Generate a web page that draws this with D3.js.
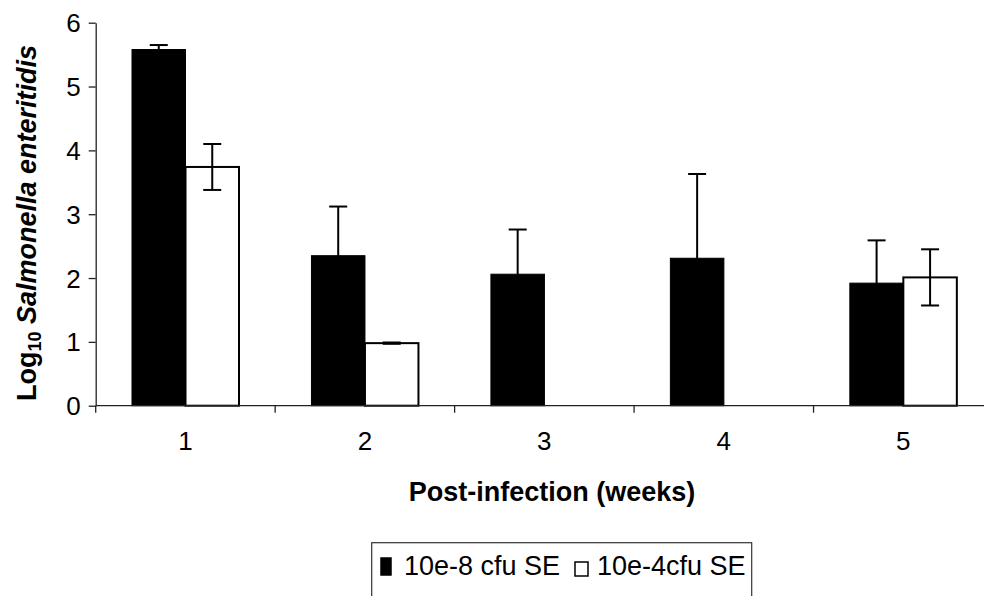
<!DOCTYPE html>
<html lang="en">
<head>
  <meta charset="UTF-8">
  <title>Salmonella enteritidis post-infection</title>
  <style>
    body{ margin: 0; background: #fff; }
    svg{ display: block; font-family: "Liberation Sans", Arial, sans-serif; }
    .tick-label{ font-size: 26px; fill: #000; }
    .axis-title{ font-size: 27px; font-weight: bold; fill: #000; }
    .legend-text{ font-size: 27px; fill: #000; }
    .err{ stroke: #000; stroke-width: 2px; fill: none; }
  </style>
</head>
<body>
  <script src="https://cdn.jsdelivr.net/npm/d3@7/dist/d3.min.js"></script>
  <script>
    const width = 984, height = 596;

    // data
    const weeks = ['1', '2', '3', '4', '5'];
    const seriesNames = ['10e-8 cfu SE', '10e-4cfu SE'];
    const highDose = [5.58, 2.35, 2.06, 2.31, 1.92];
    const highDoseErr = [0.07, 0.77, 0.70, 1.32, 0.67];
    const lowDose = [3.74, 0.98, 0, 0, 2.01];
    const lowDoseErr = [0.36, 0.01, 0, 0, 0.44];
    const yTicks = [0, 1, 2, 3, 4, 5, 6];

    const rows = weeks.map(function(w, i){
      return [
        {week: w, s: 0, v: highDose[i], e: highDoseErr[i]},
        {week: w, s: 1, v: lowDose[i], e: lowDoseErr[i]}
      ];
    });

    const plotLeft = 95.7, plotRight = 993, plotTop = 22.7, plotBottom = 405.7;
    const x = d3.scaleBand().domain(weeks).range([plotLeft, plotRight]);
    const xs = d3.scaleBand().domain([0, 1]).range([36.3, 143.3]);
    const y = d3.scaleLinear().domain([0, 6]).range([plotBottom, plotTop]);

    const svg = d3.select('body').append('svg')
      .attr('width', width)
      .attr('height', height);

    // bars
    const groups = svg.selectAll('g.week')
      .data(rows)
      .enter()
      .append('g')
      .attr('class', 'week')
      .attr('transform', function(d){ return 'translate(' + x(d[0].week) + ',0)'; });

    groups.selectAll('rect')
      .data(function(d){ return d.filter(function(r){ return r.v > 0; }); })
      .enter()
      .append('rect')
      .attr('x', function(d){ return xs(d.s); })
      .attr('width', xs.bandwidth())
      .attr('y', function(d){ return y(d.v); })
      .attr('height', function(d){ return y(0) - y(d.v); })
      .attr('fill', function(d){ return d.s === 0 ? '#000' : '#fff'; })
      .attr('stroke', '#000')
      .attr('stroke-width', function(d){ return d.s === 0 ? 1 : 2; });

    // error bars
    const errs = groups.selectAll('g.err')
      .data(function(d){ return d.filter(function(r){ return r.v > 0; }); })
      .enter()
      .append('g')
      .attr('class', 'err');
    const cx = function(d){ return xs(d.s) + xs.bandwidth() / 2; };
    errs.append('line')
      .attr('x1', cx).attr('x2', cx)
      .attr('y1', function(d){ return y(d.v - d.e); })
      .attr('y2', function(d){ return y(d.v + d.e); });
    [1, -1].forEach(function(sign){
      errs.append('line')
        .attr('x1', function(d){ return cx(d) - 9; })
        .attr('x2', function(d){ return cx(d) + 9; })
        .attr('y1', function(d){ return y(d.v + sign * d.e); })
        .attr('y2', function(d){ return y(d.v + sign * d.e); });
    });

    // y axis
    const yAxis = svg.append('g')
      .attr('transform', 'translate(' + plotLeft + ',0)')
      .call(d3.axisLeft(y).tickValues(yTicks).tickSize(7).tickSizeOuter(0).tickFormat(d3.format('d')));
    yAxis.attr('font-size', null).attr('font-family', null);
    yAxis.select('.domain').attr('stroke', '#222').attr('stroke-width', 1.3);
    yAxis.selectAll('.tick line').attr('stroke', '#222').attr('stroke-width', 1.3);
    yAxis.selectAll('.tick text')
      .attr('class', 'tick-label')
      .attr('x', -15)
      .attr('dy', '0.35em');

    // x axis: line plus ticks between groups
    const xAxis = svg.append('g')
      .attr('transform', 'translate(0,' + plotBottom + ')');
    xAxis.append('line')
      .attr('x1', plotLeft).attr('x2', plotRight)
      .attr('stroke', '#222').attr('stroke-width', 1.3);
    xAxis.selectAll('line.sep')
      .data(weeks)
      .enter()
      .append('line')
      .attr('class', 'sep')
      .attr('x1', function(d){ return x(d); })
      .attr('x2', function(d){ return x(d); })
      .attr('y1', 0).attr('y2', 7)
      .attr('stroke', '#222').attr('stroke-width', 1.3);
    xAxis.selectAll('text')
      .data(weeks)
      .enter()
      .append('text')
      .attr('class', 'tick-label')
      .attr('text-anchor', 'middle')
      .attr('x', function(d){ return x(d) + x.bandwidth() / 2; })
      .attr('y', 44.5)
      .text(function(d){ return d; });

    // axis titles
    svg.append('text')
      .attr('class', 'axis-title')
      .attr('text-anchor', 'middle')
      .attr('x', 552)
      .attr('y', 501)
      .text('Post-infection (weeks)');

    const yTitle = svg.append('text')
      .attr('class', 'axis-title')
      .attr('text-anchor', 'middle')
      .attr('transform', 'translate(36,223) rotate(-90)');
    yTitle.append('tspan').text('Log');
    yTitle.append('tspan').attr('font-size', '18px').attr('dy', 5).text('10');
    yTitle.append('tspan').attr('dy', -5).attr('font-style', 'italic').text(' Salmonella enteritidis');

    // legend
    const legend = svg.append('g');
    legend.append('rect')
      .attr('x', 371.7).attr('y', 542.7)
      .attr('width', 380).attr('height', 80)
      .attr('fill', '#fff').attr('stroke', '#333').attr('stroke-width', 1.2);
    const legendItems = [
      {name: seriesNames[0], fill: '#000', sx: 381, sy: 558, sw: 10, sh: 17, tx: 404},
      {name: seriesNames[1], fill: '#fff', sx: 575, sy: 562, sw: 13, sh: 14, tx: 597}
    ];
    legend.selectAll('rect.key')
      .data(legendItems)
      .enter()
      .append('rect')
      .attr('class', 'key')
      .attr('x', function(d){ return d.sx; })
      .attr('y', function(d){ return d.sy; })
      .attr('width', function(d){ return d.sw; })
      .attr('height', function(d){ return d.sh; })
      .attr('fill', function(d){ return d.fill; })
      .attr('stroke', '#000')
      .attr('stroke-width', 1.5);
    legend.selectAll('text')
      .data(legendItems)
      .enter()
      .append('text')
      .attr('class', 'legend-text')
      .attr('x', function(d){ return d.tx; })
      .attr('y', 575)
      .text(function(d){ return d.name; });
  </script>
</body>
</html>
